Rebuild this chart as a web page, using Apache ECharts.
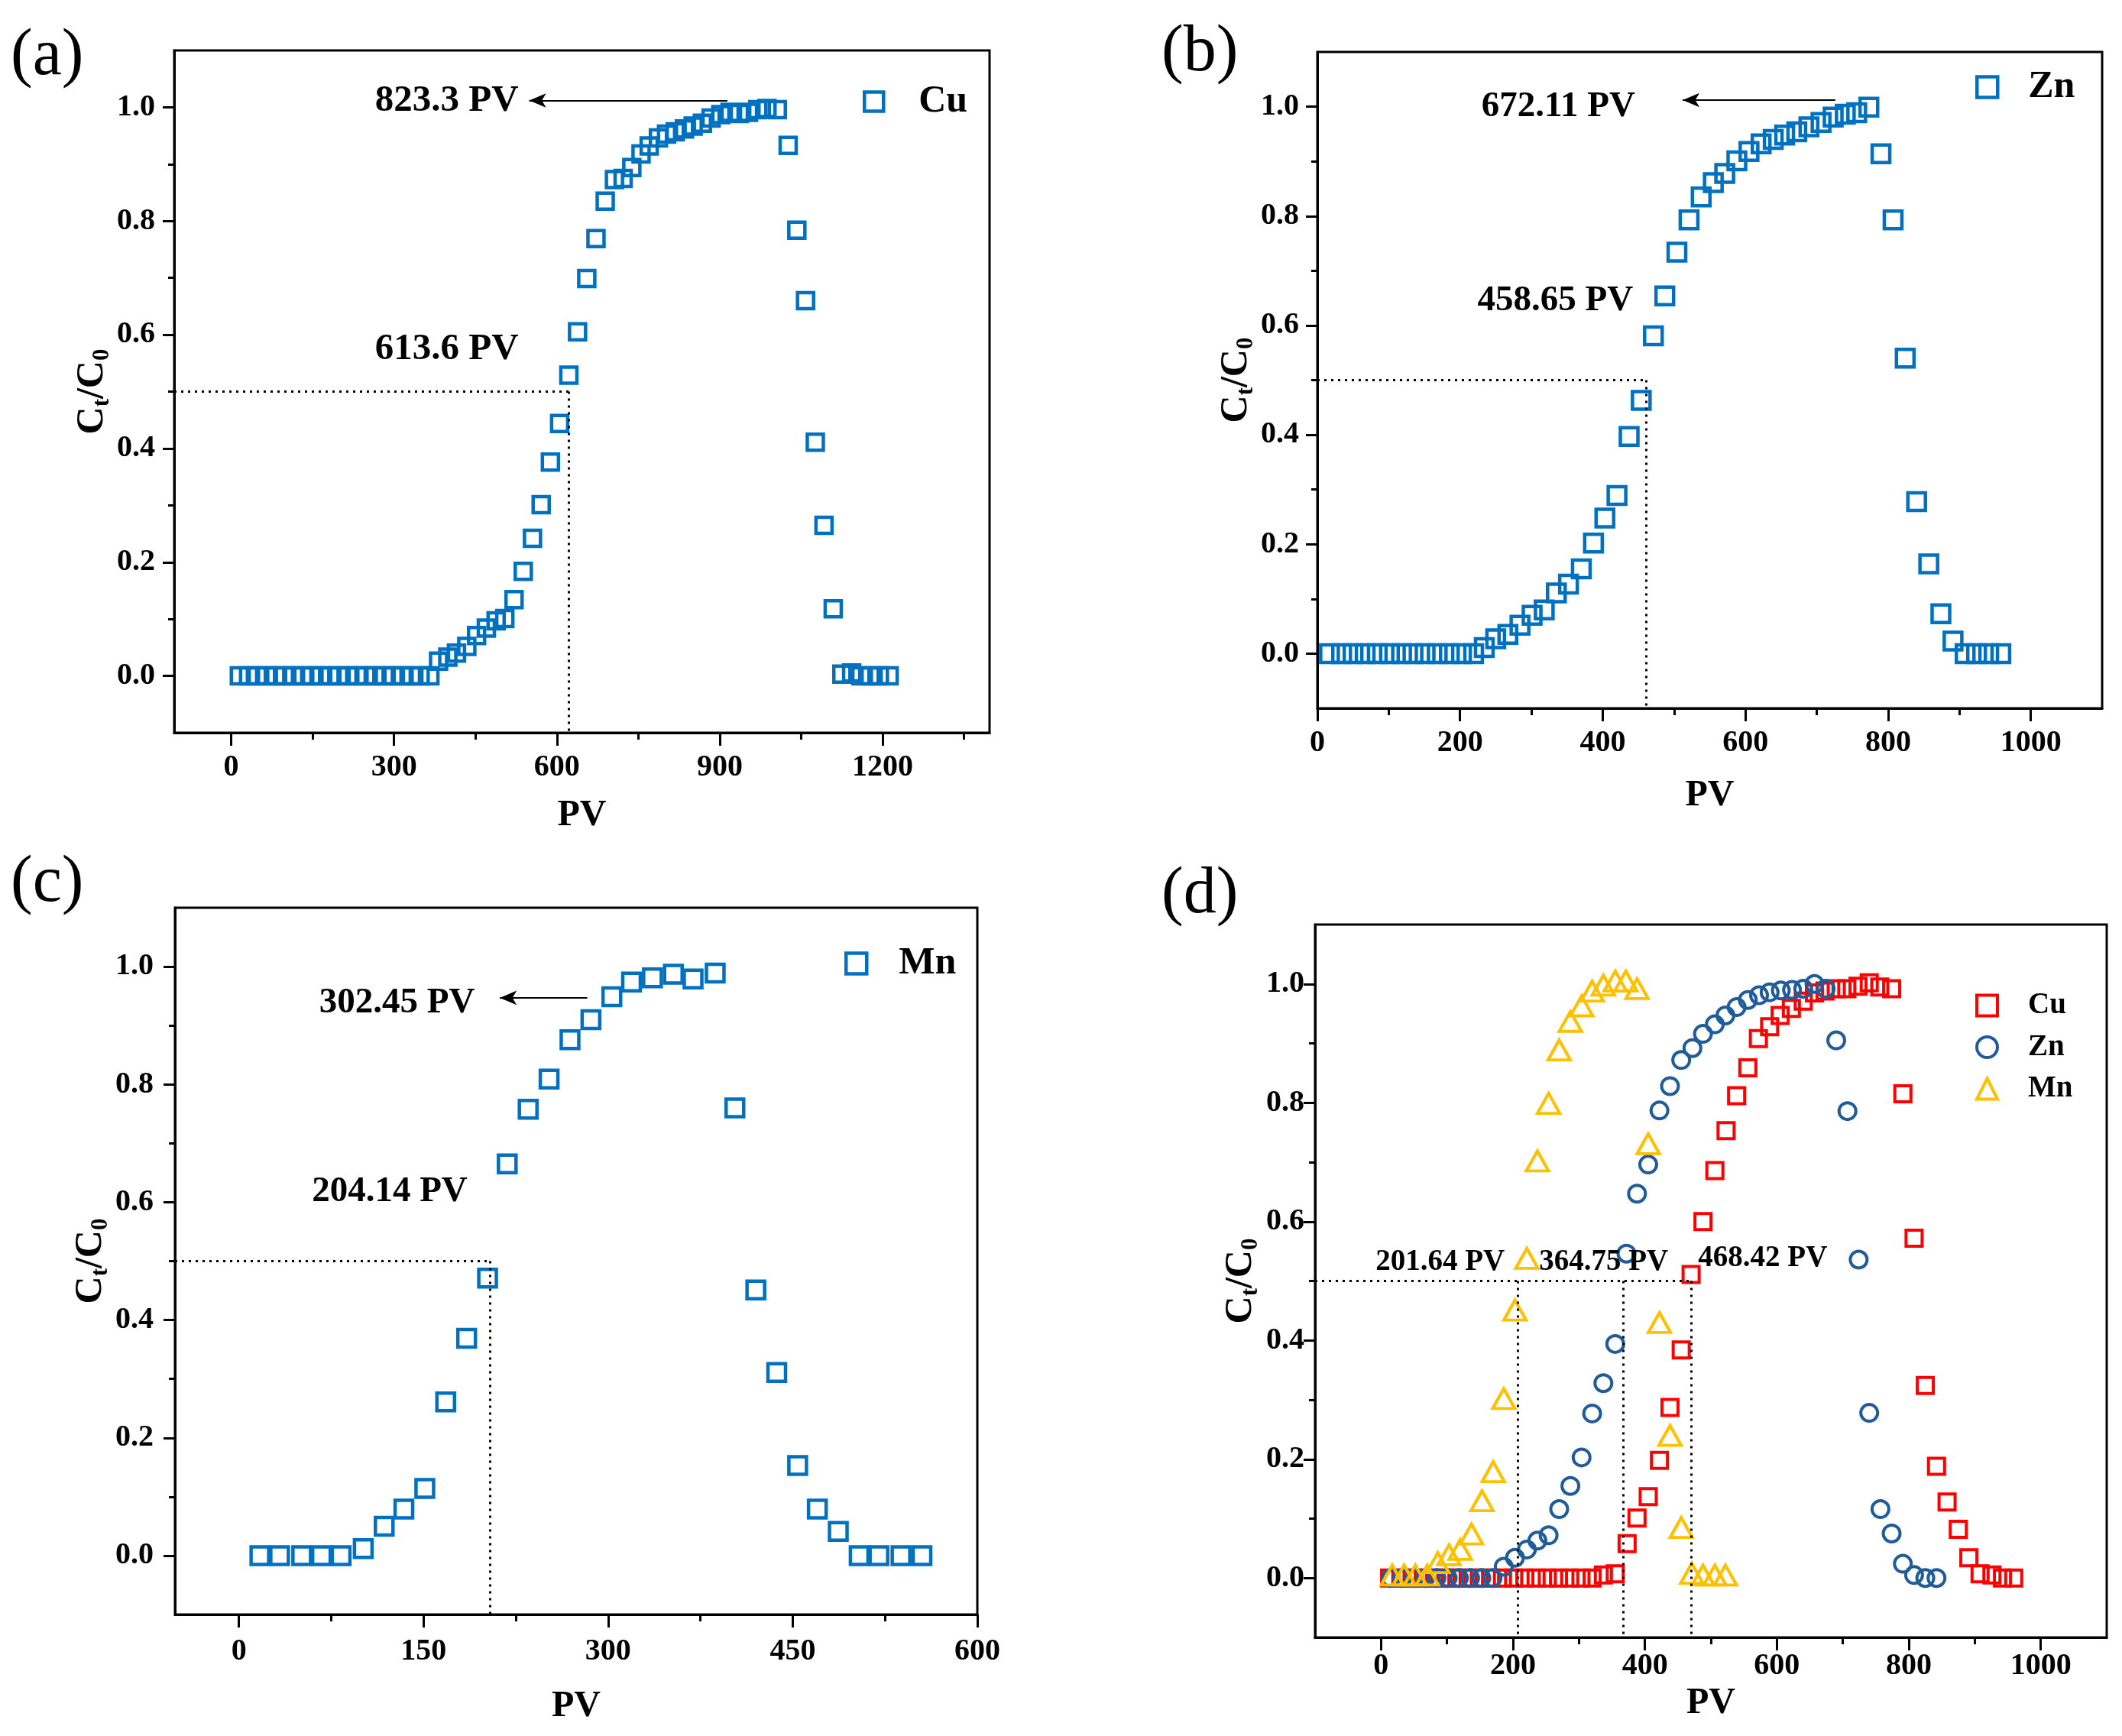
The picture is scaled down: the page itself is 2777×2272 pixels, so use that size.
<!DOCTYPE html>
<html><head><meta charset="utf-8">
<script src="https://cdn.jsdelivr.net/npm/echarts@6/dist/echarts.min.js"></script>
<style>html,body{margin:0;padding:0;background:#fff}#c{width:2777px;height:2272px}</style>
</head><body><div id="c"></div>
<script>
// ---------------- data ----------------
// (a) Cu
const cuA_x = [15,32,48,65,82,98,115,132,148,165,182,198,215,232,248,265,282,298,315,332,348,366,
  382,399,415,434,452,470,488,504,521,538,555,571,588,605,622,638,655,672,689,706,722,738,755,770,787,802,818,835,851,868,884,902,919,936,953,970,987,1006,
  1026,1042,1058,1076,1092,1109,1125,1143,1160,1177,1194,1212];
const cuA_y = [0,0,0,0,0,0,0,0,0,0,0,0,0,0,0,0,0,0,0,0,0,0,
  0.026,0.033,0.040,0.052,0.071,0.084,0.097,0.101,0.134,0.184,0.242,0.301,0.376,0.444,0.529,0.605,0.699,0.769,0.835,0.873,0.875,0.894,0.918,0.932,0.946,0.953,0.957,0.962,0.967,0.972,0.981,0.987,0.991,0.989,0.991,0.996,0.998,0.996,
  0.933,0.784,0.660,0.411,0.265,0.118,0.003,0.005,0,0,0,0];
// (b) Zn
const znB_x = [17,34,50,67,84,101,118,134,151,168,185,202,219,
  234,250,267,284,301,318,335,352,370,387,403,420,437,454,471,487,504,521,538,555,571,588,605,622,639,655,672,689,706,723,740,756,773,
  790,807,824,840,857,874,891,908,924,941,958];
const znB_y = [0,0,0,0,0,0,0,0,0,0,0,0,0,
  0.011,0.027,0.035,0.052,0.070,0.080,0.111,0.127,0.155,0.202,0.248,0.289,0.397,0.463,0.581,0.654,0.734,0.793,0.835,0.861,0.878,0.901,0.918,0.932,0.940,0.948,0.954,0.963,0.971,0.981,0.986,0.989,0.999,
  0.914,0.793,0.540,0.278,0.164,0.073,0.023,0,0,0,0];
// (c) Mn
const mnC_x = [17,33,51,67,83,101,118,134,151,168,185,202,218,235,252,269,286,303,319,336,353,369,387,403,420,437,454,470,487,504,520,538,555];
const mnC_y = [0,0,0,0,0,0.012,0.050,0.079,0.114,0.261,0.369,0.471,0.665,0.758,0.809,0.876,0.910,0.949,0.974,0.981,0.987,0.979,0.989,0.760,0.451,0.311,0.153,0.079,0.041,0,0,0,0];
// (d) Cu, Zn, Mn
const cuD_x = [13,30,47,64,81,98,115,132,149,166,184,201,218,235,252,269,286,303,320,
  337,355,373,388,405,422,438,455,470,488,506,523,539,556,572,589,605,622,640,657,673,690,706,723,740,756,774,
  791,808,825,842,858,875,891,908,926,942,959];
const cuD_y = [0,0,0,0,0,0,0,0,0,0,0,0,0,0,0,0,0,0,0,
  0.005,0.007,0.058,0.101,0.137,0.198,0.287,0.384,0.511,0.600,0.686,0.753,0.812,0.859,0.908,0.928,0.947,0.959,0.971,0.985,0.988,0.992,0.992,0.996,1.002,0.995,0.992,
  0.815,0.572,0.324,0.188,0.128,0.082,0.034,0.007,0.005,0,0];
const znD_x = [15,32,50,67,84,101,118,135,152,169,
  186,203,221,237,254,270,287,304,320,337,355,372,388,405,422,438,455,472,488,506,522,539,556,573,589,606,623,640,657,674,
  690,707,724,740,757,774,791,808,825,842];
const znD_y = [0,0,0,0,0,0,0,0,0,0,
  0.019,0.034,0.048,0.063,0.072,0.116,0.155,0.203,0.277,0.328,0.394,0.546,0.647,0.696,0.787,0.828,0.872,0.892,0.916,0.932,0.947,0.961,0.973,0.981,0.986,0.989,0.990,0.992,1.000,0.992,
  0.905,0.786,0.536,0.278,0.116,0.075,0.024,0.005,0,0];
const mnD_x = [17,35,52,70,86,103,120,137,153,170,186,203,221,237,254,270,287,304,320,337,355,371,388,405,422,438,455,471,488,506,522];
const mnD_y = [0.005,0.005,0.005,0.005,0.026,0.039,0.048,0.074,0.130,0.179,0.302,0.451,0.538,0.702,0.799,0.889,0.937,0.963,0.988,0.998,1.005,1.005,0.992,0.731,0.430,0.240,0.085,0.008,0.005,0.005,0.005];

// tick labels
const yTicks = [0, 0.2, 0.4, 0.6, 0.8, 1.0];
const yMinor = [0.1, 0.3, 0.5, 0.7, 0.9];
const xTicksA = [0, 300, 600, 900, 1200];
const xMinorA = [150, 450, 750, 1050, 1350];
const xTicksB = [0, 200, 400, 600, 800, 1000];
const xMinorB = [100, 300, 500, 700, 900];
const xTicksC = [0, 150, 300, 450, 600];
const xMinorC = [75, 225, 375, 525];
const xTicksD = [0, 200, 400, 600, 800, 1000];
const xMinorD = [100, 300, 500, 700, 900];

// breakthrough / saturation annotations (values from the figure)
const breakA = [622];           // 613.6 PV
const breakB = [461];           // 458.65 PV
const breakC = [204];           // 204.14 PV
const breakD = [207.5, 367.6, 470.3]; // 201.64, 364.75, 468.42 PV

// ---------------- layout / style ----------------
const FONT = '"Liberation Serif","Times New Roman",serif';
const BLUE = '#0070C0', RED = '#FF0000', DBLUE = '#1F5C99', GOLD = '#FFC000';
const zip = (xs, ys) => xs.map((x, i) => [x, ys[i]]);

const panels = [
  {grid:{left:228,top:66,width:1067,height:893}, xMin:-105, xMax:1397, xTicks:xTicksA, xMinor:xMinorA, xlm:26, xng:85, ylm:25, yng:79},
  {grid:{left:1724,top:68,width:1027,height:859}, xMin:0, xMax:1100, xTicks:xTicksB, xMinor:xMinorB, xlm:26, xng:91, ylm:24, yng:76},
  {grid:{left:229,top:1188,width:1050,height:925}, xMin:-52, xMax:600, xTicks:xTicksC, xMinor:xMinorC, xlm:29, xng:97, ylm:28, yng:80},
  {grid:{left:1721,top:1210,width:1036,height:933}, xMin:-100, xMax:1100, xTicks:xTicksD, xMinor:xMinorD, xlm:18, xng:63, ylm:14, yng:69}
];

const grids = [], xAxes = [], yAxes = [];
const tickLine = {color:'#000', width:3};
panels.forEach((p, i) => {
  grids.push(Object.assign({show:true, borderColor:'#000', borderWidth:3, backgroundColor:'transparent'}, p.grid));
  xAxes.push({
    type:'value', gridIndex:i, min:p.xMin, max:p.xMax, position:'bottom',
    name:'PV', nameLocation:'middle', nameGap:p.xng,
    nameTextStyle:{fontFamily:FONT, fontWeight:'bold', fontSize:48, color:'#000'},
    axisLine:{show:true, onZero:false, lineStyle:tickLine},
    axisTick:{show:true, inside:false, length:17, lineStyle:tickLine, customValues:p.xTicks},
    axisLabel:{show:true, customValues:p.xTicks, margin:p.xlm, formatter:v => String(Math.round(v)),
      fontFamily:FONT, fontWeight:'bold', fontSize:40, color:'#000'},
    splitLine:{show:false}
  });
  xAxes.push({
    type:'value', gridIndex:i, min:p.xMin, max:p.xMax, position:'bottom', offset:0,
    axisLine:{show:false, onZero:false},
    axisTick:{show:true, inside:false, length:9, lineStyle:tickLine, customValues:p.xMinor},
    axisLabel:{show:false}, splitLine:{show:false}
  });
  yAxes.push({
    type:'value', gridIndex:i, min:-0.1, max:1.1, position:'left',
    name:'{m|C}{s|t}{m|/C}{s|0}', nameLocation:'middle', nameGap:p.yng, nameRotate:90,
    nameTextStyle:{rich:{
      m:{fontFamily:FONT, fontWeight:'bold', fontSize:50, lineHeight:56, color:'#000'},
      s:{fontFamily:FONT, fontWeight:'bold', fontSize:31, lineHeight:30, verticalAlign:'bottom', color:'#000'}
    }},
    axisLine:{show:true, onZero:false, lineStyle:tickLine},
    axisTick:{show:true, inside:false, length:15, lineStyle:tickLine, customValues:yTicks},
    axisLabel:{show:true, customValues:yTicks, margin:p.ylm, formatter:v => Number(v).toFixed(1),
      fontFamily:FONT, fontWeight:'bold', fontSize:40, color:'#000'},
    splitLine:{show:false}
  });
  yAxes.push({
    type:'value', gridIndex:i, min:-0.1, max:1.1, position:'left', offset:0,
    axisLine:{show:false, onZero:false},
    axisTick:{show:true, inside:false, length:8, lineStyle:tickLine, customValues:yMinor},
    axisLabel:{show:false}, splitLine:{show:false}
  });
});

function pointSeries(name, i, xs, ys, symbol, size, color, bw) {
  return {
    name, type:'scatter', xAxisIndex:2*i, yAxisIndex:2*i, data:zip(xs, ys),
    symbol, symbolSize:size,
    itemStyle:{color:'rgba(255,255,255,0)', borderColor:color, borderWidth:bw, opacity:1},
    emphasis:{disabled:true}, z:3
  };
}

const dotted = {type:[3,6], width:3, color:'#000'};
function annSeries(i, notes, fontSize, lines) {
  return {
    type:'scatter', xAxisIndex:2*i, yAxisIndex:2*i, silent:true, z:4,
    symbolSize:1, itemStyle:{color:'rgba(255,255,255,0)'},
    data: notes.map(n => ({value:[n.x, n.y], name:n.t})),
    label:{show:true, position:'left', distance:0, formatter:p => p.name, opacity:1,
      fontFamily:FONT, fontWeight:'bold', fontSize, color:'#000'},
    markLine:{silent:true, animation:false, symbol:['none','none'], label:{show:false},
      lineStyle:dotted, emphasis:{disabled:true}, data:lines}
  };
}
function arrow(x1, x2, y) {
  return [{coord:[x1, y], symbol:'none', lineStyle:{type:'solid', width:2, color:'#000'}},
          {coord:[x2, y], symbol:'arrow', symbolSize:[14, 22]}];
}
function hline(x0, x1) { return [{coord:[x0, 0.5]}, {coord:[x1, 0.5]}]; }
function vline(x) { return [{coord:[x, 0.5]}, {coord:[x, -0.1]}]; }

const series = [
  pointSeries('Cu', 0, cuA_x, cuA_y, 'rect', 21, BLUE, 4.5),
  pointSeries('Zn', 1, znB_x, znB_y, 'rect', 23, BLUE, 4.5),
  pointSeries('Mn', 2, mnC_x, mnC_y, 'rect', 23, BLUE, 4.5),
  pointSeries('Cu ', 3, cuD_x, cuD_y, 'rect', 21, RED, 4),
  pointSeries('Zn ', 3, znD_x, znD_y, 'circle', 22, DBLUE, 4),
  pointSeries('Mn ', 3, mnD_x, mnD_y, 'triangle', [29, 26], GOLD, 4),
  annSeries(0, [{x:530, y:1.011, t:'823.3 PV'}, {x:530, y:0.574, t:'613.6 PV'}], 49,
    [hline(-105, breakA[0]), vline(breakA[0]), arrow(914, 549, 1.012)]),
  annSeries(1, [{x:446, y:0.999, t:'672.11 PV'}, {x:443, y:0.645, t:'458.65 PV'}], 47,
    [hline(0, breakB[0]), vline(breakB[0]), arrow(726, 512, 1.012)]),
  annSeries(2, [{x:192, y:0.938, t:'302.45 PV'}, {x:186, y:0.617, t:'204.14 PV'}], 47,
    [hline(-52, breakC[0]), vline(breakC[0]), arrow(283, 212, 0.947)]),
  annSeries(3, [{x:188, y:0.531, t:'201.64 PV'}, {x:436, y:0.531, t:'364.75 PV'}, {x:677, y:0.538, t:'468.42 PV'}], 39,
    [hline(-100, breakD[2]), vline(breakD[0]), vline(breakD[1]), vline(breakD[2])])
];

function legend(names, left, top, size, fontSize, lineHeight, pad, gap, bw) {
  return {
    data:names, orient:'vertical', left, top, itemWidth:size, itemHeight:size, itemGap:gap,
    selectedMode:false, padding:0, formatter:n => n.trim(),
    itemStyle:{borderWidth:bw},
    textStyle:{fontFamily:FONT, fontWeight:'bold', fontSize, lineHeight, color:'#000', padding:[0,0,0,pad]}
  };
}

const titleStyle = {fontFamily:FONT, fontWeight:'normal', fontSize:86, lineHeight:90, color:'#000'};
const option = {
  animation:false, backgroundColor:'#fff',
  title:[
    {text:'(a)', left:14, top:29, padding:0, textStyle:titleStyle},
    {text:'(b)', left:1520, top:24, padding:0, textStyle:titleStyle},
    {text:'(c)', left:14, top:1111, padding:0, textStyle:titleStyle},
    {text:'(d)', left:1520, top:1126, padding:0, textStyle:titleStyle}
  ],
  grid:grids, xAxis:xAxes, yAxis:yAxes,
  legend:[
    legend(['Cu'], 1129, 107, 25, 50, 52, 41, 0, 4.5),
    legend(['Zn'], 2585, 88, 27, 50, 52, 35, 0, 4.5),
    legend(['Mn'], 1105, 1235, 27, 50, 52, 37, 0, 4.5),
    legend(['Cu ', 'Zn ', 'Mn '], 2585, 1296, 27, 39, 40, 35, 14.5, 4)
  ],
  series
};
const chart = echarts.init(document.getElementById('c'), null, {renderer:'canvas'});
chart.setOption(option);
</script>
</body></html>
